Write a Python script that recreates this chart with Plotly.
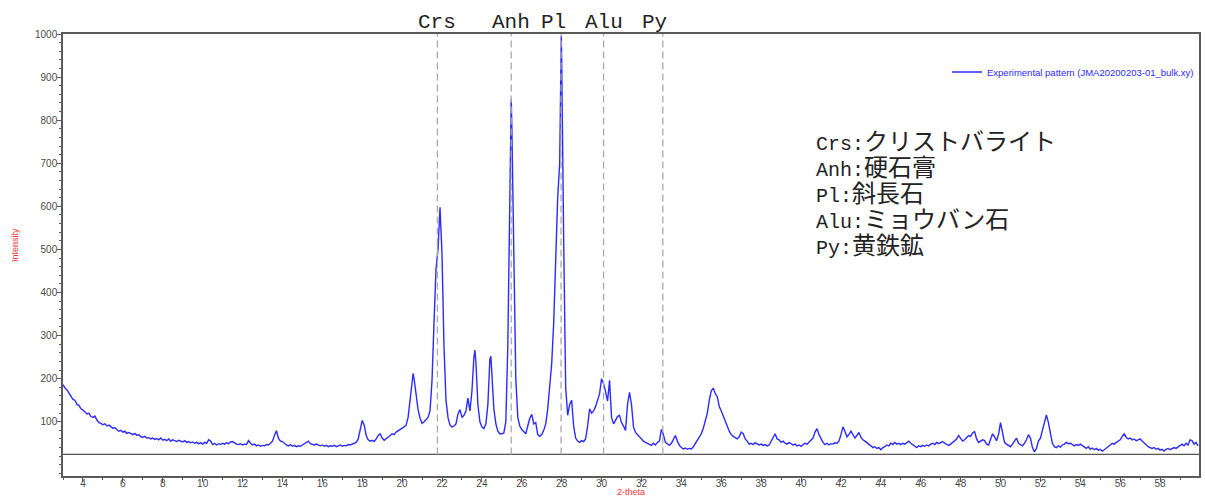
import plotly.graph_objects as go

# ---------------- data ----------------
# intensity sampled every 0.1 deg 2-theta, three segments
seg_a_start = 3.0
seg_a = [
    186, 178, 174, 166, 160, 152, 150, 140, 138, 130,
    127, 122, 118, 120, 112, 110, 113, 104, 98, 96,
    93, 95, 90, 92, 88, 85, 86, 82, 78, 80,
    76, 78, 73, 75, 72, 70, 73, 68, 70, 65,
    64, 66, 62, 63, 60, 62, 59, 61, 58, 62,
    57, 59, 56, 60, 55, 58, 56, 54, 57, 55,
    53, 56, 52, 54, 51, 53, 50, 52, 49, 51,
    48, 52, 50, 58, 55, 47, 50, 46, 49, 47,
    50, 48, 51, 49, 53, 54, 50, 48, 47, 49,
    46, 48, 47, 56, 50, 46, 48, 44, 46, 43,
    45, 44, 47, 46, 50, 55, 68, 79, 62, 55,
    54, 49, 46, 44, 47, 43, 45, 42, 44, 43,
    46, 48, 53, 55, 49, 47, 46, 48, 45, 44,
    46, 43, 45, 42, 44, 43, 45, 42, 44, 46,
    43, 45, 44, 47, 46, 48, 49, 52, 60, 85,
    103, 92, 68, 58, 55, 57, 54, 60, 68, 72,
    62, 57, 60,
]
seg_b_start = 19.3
seg_b = [
    64, 68, 72, 70, 76, 79, 80,
    84, 88, 92, 110, 150, 195, 200, 160, 128, 108,
    96, 100, 104, 110, 125, 196, 330, 455, 500, 598,
    490, 274, 150, 110, 92, 88, 90, 95, 118, 128,
    110, 115, 125, 155, 125, 170, 250, 238, 140, 100,
    88, 84, 95, 140, 245, 210, 130, 95, 78, 72,
    72, 74, 100, 280, 700, 790, 450, 200, 110, 90,
    82, 76, 72, 90, 108, 117, 95, 98, 70, 66,
    70, 80, 95, 130, 175, 235, 330, 470, 620, 700,
    940, 520, 180, 115, 140, 150, 90, 62, 55, 52,
    56, 54, 60, 90, 130, 120, 125, 135, 150, 165,
    200, 188, 170, 148, 196, 110, 95, 105, 112, 115,
    98, 90, 80, 140, 168, 140, 88, 75, 70, 63,
    60, 55, 52, 50, 47, 45, 50, 46, 52, 55,
    82, 70, 52, 48, 45, 50, 60, 68, 55, 45,
    40, 37, 39, 36, 38, 37, 42, 50, 58, 65,
    72, 85, 100, 120, 150, 172, 178, 165, 158, 135,
    125, 112, 98, 90, 78, 70,
]
seg_c_start = 36.6
seg_c = [
    66, 62, 60, 65,
    76, 72, 60, 55, 48, 50, 47, 51, 49, 46,
    48, 45, 47, 44, 46, 55, 65, 72, 60, 58,
    52, 55, 50, 48, 52, 49, 46, 48, 44, 46,
    43, 47, 50, 48, 52, 56, 62, 76, 84, 70,
    60, 52, 47, 50, 46, 49, 48, 51, 50, 55,
    70, 88, 78, 65, 70, 78, 70, 62, 68, 75,
    64, 58, 55, 52, 48, 44, 40, 42, 38, 40,
    35, 40, 42, 46, 44, 50, 47, 52, 48, 50,
    47, 50, 48, 52, 55, 50, 46, 42, 40, 44,
    42, 45, 43, 46, 44, 48, 50, 47, 52, 49,
    51, 54, 50, 47, 45, 48, 52, 55, 60, 68,
    62, 55, 58, 64, 68, 66, 74, 77, 60, 52,
    55, 58, 56, 48, 46, 58, 72, 65, 56, 70,
    98, 75, 52, 48, 45, 42, 48, 56, 62, 50,
    46, 44, 50, 58, 70, 62, 40, 30, 38, 55,
    62, 80, 100, 116, 98, 70, 50, 42, 40, 44,
    41, 46, 48, 52, 49, 50, 46, 44, 47, 45,
    48, 44, 40, 38, 42, 36, 39, 35, 38, 34,
    36, 32, 35, 38, 42, 46, 50, 48, 52, 55,
    58, 66, 72, 64, 60, 62, 58, 60, 56, 58,
    60, 55, 50, 46, 42, 40, 38, 40, 36, 38,
    34, 36, 32, 36, 38, 35, 38, 40, 38, 42,
    45, 48, 44, 50, 46, 58, 56, 48, 52, 44,
]
# peak apex points between grid samples
apex_theta = [20.55, 23.65, 24.45, 25.47, 27.98]
apex_int = [212, 266, 252, 848, 995]

phase_codes = ["Crs", "Anh", "Pl", "Alu", "Py"]
phase_theta = [21.77, 25.47, 27.97, 30.10, 33.07]
phase_names_ja = ["クリストバライト", "硬石膏", "斜長石", "ミョウバン石", "黄鉄鉱"]

baseline_level = 24
legend_name = "Experimental pattern (JMA20200203-01_bulk.xy)"
y_ticks = list(range(100, 1001, 100))

# ---------------- build series ----------------
pts = []
for start, seg in ((seg_a_start, seg_a), (seg_b_start, seg_b), (seg_c_start, seg_c)):
    for i, v in enumerate(seg):
        pts.append((round(start + 0.1 * i, 2), v))
pts += list(zip(apex_theta, apex_int))
pts.sort(key=lambda p: p[0])
xs = [p[0] for p in pts]
ys = [p[1] for p in pts]

# ---------------- figure ----------------
W, H = 1205, 497
ML, MR, MT, MB = 63, 4, 34, 21
plot_h = H - MT - MB


def py2paper(py):
    return (H - MB - py) / plot_h


def px2paper(px):
    return (px - ML) / (W - ML - MR)


fig = go.Figure()
fig.add_trace(go.Scatter(
    x=xs, y=ys, mode="lines", name=legend_name,
    line=dict(color="#2b2bff", width=1.4),
))

# baseline
fig.add_shape(type="line", xref="paper", x0=0, x1=1, yref="y",
              y0=baseline_level, y1=baseline_level,
              line=dict(color="#555555", width=1.3))

label_xshift = [0, 0, -8, 0, -8]
for code, t, dx in zip(phase_codes, phase_theta, label_xshift):
    fig.add_shape(type="line", xref="x", yref="y", x0=t, x1=t,
                  y0=baseline_level, y1=1000,
                  line=dict(color="#aaaaaa", width=1.3, dash="7px,4px"))
    fig.add_annotation(x=t, xref="x", y=py2paper(22), yref="paper",
                       text=code, showarrow=False, xshift=dx,
                       xanchor="center", yanchor="middle",
                       font=dict(family="Liberation Mono", size=21, color="#222222"))

# mineral key (one multi-line text block)
key_lines = [
    f'{c}:<span style="font-family:Noto Sans CJK JP;font-size:24px">{n}</span>'
    for c, n in zip(phase_codes, phase_names_ja)
]
fig.add_annotation(
    x=px2paper(815), xref="paper", y=py2paper(192), yref="paper",
    xanchor="left", yanchor="middle", showarrow=False, align="left",
    text="<br>".join(key_lines),
    font=dict(family="Liberation Mono, Noto Sans CJK JP", size=20, color="#222222"),
)

# axis titles
fig.add_annotation(x=px2paper(15), xref="paper", y=py2paper(245), yref="paper",
                   xanchor="center", yanchor="middle",
                   text="Intensity", textangle=-90, showarrow=False,
                   font=dict(family="Liberation Sans", size=9, color="#ff3333"))
fig.add_annotation(x=px2paper(632), xref="paper", y=py2paper(492), yref="paper",
                   xanchor="center", yanchor="middle",
                   text="2-theta", showarrow=False,
                   font=dict(family="Liberation Sans", size=9, color="#ff3333"))

axis_common = dict(
    showgrid=False, zeroline=False, showline=True, linecolor="#5a5a5a",
    linewidth=1.5, mirror=True, ticks="outside", ticklen=4, tickcolor="#5a5a5a",
    tickfont=dict(family="Liberation Sans", size=10, color="#4a4a4a"),
)
fig.update_layout(
    width=W, height=H,
    margin=dict(l=ML, r=MR, t=MT, b=MB),
    paper_bgcolor="white", plot_bgcolor="white",
    showlegend=True,
    legend=dict(x=1, xanchor="right", y=py2paper(72), yanchor="middle",
                bgcolor="rgba(0,0,0,0)", itemwidth=30,
                font=dict(family="Liberation Sans", size=9.5, color="#2b2bff")),
    xaxis=dict(range=[3, 59.95], tickmode="linear", tick0=0, dtick=2,
               ticklabelstandoff=-7,
               minor=dict(tickmode="linear", tick0=0, dtick=1, ticks="outside",
                          ticklen=2, tickcolor="#5a5a5a"),
               **axis_common),
    yaxis=dict(range=[-26, 1000], tickmode="array", tickvals=y_ticks,
               ticklabelstandoff=-2,
               minor=dict(tickmode="linear", tick0=0, dtick=20, ticks="outside",
                          ticklen=2, tickcolor="#5a5a5a"),
               **axis_common),
)

fig.write_html(
    "out.html",
    config={"displayModeBar": False},
    post_script="document.body.style.margin='0';document.body.style.padding='0';"
                "document.body.style.overflow='hidden';",
)
